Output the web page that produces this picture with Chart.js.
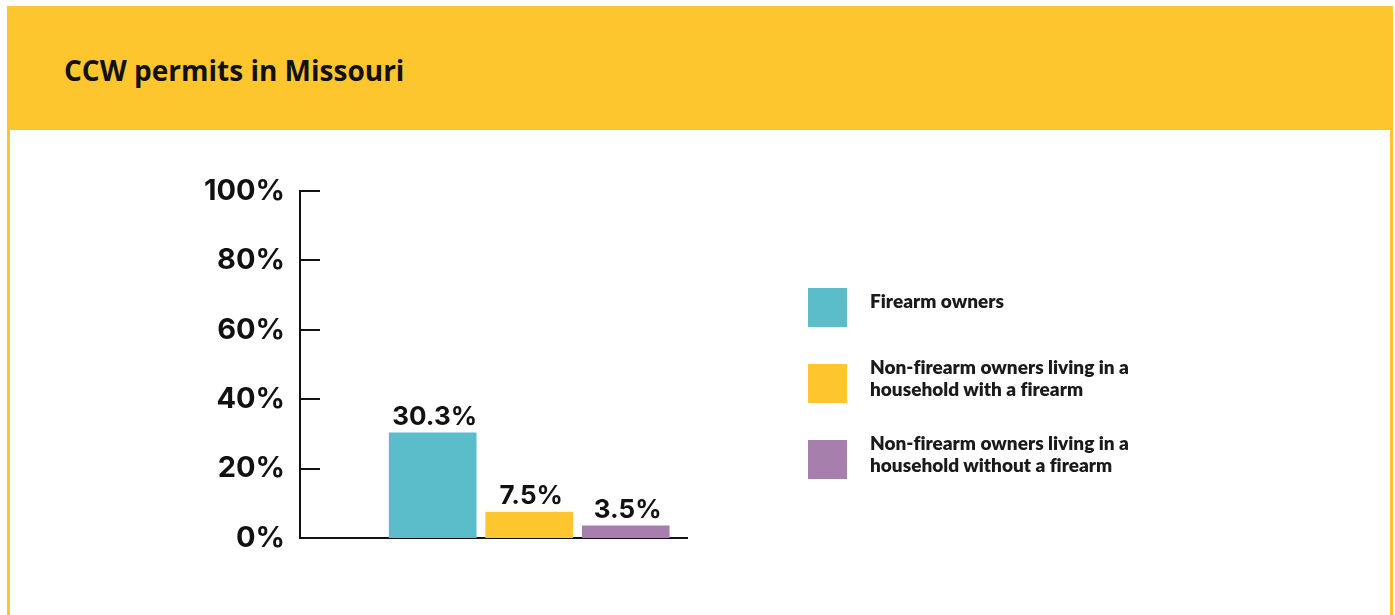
<!DOCTYPE html>
<html>
<head>
<meta charset="utf-8">
<script src="https://cdn.jsdelivr.net/npm/chart.js@4/dist/chart.umd.min.js"></script>
<style>
  html, body { margin: 0; padding: 0; background: #fff; width: 1395px; height: 615px; overflow: hidden; }
  .frame { position: absolute; left: 7px; top: 6px; width: 1380px; height: 640px;
           border-left: 3px solid #FEC62E; border-right: 3px solid #FEC62E; background: #fff; }
  .header { position: absolute; left: 0; top: 0; right: 0; height: 124px; background: #FEC62E; }
  .header h1 { position: absolute; left: 54px; top: 0; margin: 0; height: 28px;
               font: 700 28px "Open Sans", sans-serif; line-height: 28px; color: #111; }
  #chartWrap { position: absolute; left: 0; top: 0; width: 1395px; height: 615px; }
  .legend { position: absolute; left: 0; top: 0; font: 800 19px "Lato", sans-serif; color: #1a1a1a;
            font-variant-ligatures: none; }
  .legend .item { position: absolute; left: 808px; }
  .legend .swatch { position: absolute; left: 0; top: 0; width: 39px; height: 39px; }
  .legend .label { position: absolute; left: 62px; top: 0; width: 320px; line-height: 22px; white-space: nowrap; }
</style>
</head>
<body>
<div class="frame">
  <div class="header"><h1 id="title">CCW permits in Missouri</h1></div>
</div>
<div id="chartWrap"><canvas id="chart" width="1395" height="615"></canvas></div>
<div class="legend" id="legend"></div>
<script>
// Share of adults holding a concealed-carry permit, by household firearm status
const categories = [
  'Firearm owners',
  'Non-firearm owners living in a household with a firearm',
  'Non-firearm owners living in a household without a firearm'
];
const legendLines = [
  ['Firearm owners'],
  ['Non-firearm owners living in a', 'household with a firearm'],
  ['Non-firearm owners living in a', 'household without a firearm']
];
const permitShare = [30.3, 7.5, 3.5];
const yTicks = [0, 20, 40, 60, 80, 100];

const barColors = ['#5BBDCA', '#FEC62E', '#A77FAD'];
const legendTops = [288, 364, 440];

// Title baseline sits at y≈80 on the page
document.getElementById('title').style.top = (80 - 6 - 28 * 0.86) + 'px';

// Legend
const legendEl = document.getElementById('legend');
legendLines.forEach((lines, i) => {
  const item = document.createElement('div');
  item.className = 'item';
  item.style.top = legendTops[i] + 'px';
  const sw = document.createElement('div');
  sw.className = 'swatch';
  sw.style.background = barColors[i];
  const lab = document.createElement('div');
  lab.className = 'label';
  lab.style.top = (lines.length === 1 ? 2 : -8) + 'px';
  lab.innerHTML = lines.join('<br>');
  item.appendChild(sw);
  item.appendChild(lab);
  legendEl.appendChild(item);
});

// Inward tick marks on the value axis
const innerTicks = {
  id: 'innerTicks',
  afterDraw(chart) {
    const { ctx, scales: { y }, chartArea } = chart;
    ctx.save();
    ctx.strokeStyle = '#111';
    ctx.lineWidth = 2;
    yTicks.forEach(v => {
      const py = Math.round(y.getPixelForValue(v));
      ctx.beginPath();
      ctx.moveTo(chartArea.left, py);
      ctx.lineTo(chartArea.left + 20, py);
      ctx.stroke();
    });
    ctx.restore();
  }
};

// Value labels above each bar
const valueLabels = {
  id: 'valueLabels',
  afterDatasetsDraw(chart) {
    const { ctx } = chart;
    const meta = chart.getDatasetMeta(0);
    ctx.save();
    ctx.font = '700 26px "Inter", sans-serif';
    ctx.fillStyle = '#111';
    ctx.textAlign = 'center';
    ctx.textBaseline = 'alphabetic';
    meta.data.forEach((bar, i) => {
      ctx.fillText(permitShare[i] + '%', bar.x + 2, bar.y - 8);
    });
    ctx.restore();
  }
};

new Chart(document.getElementById('chart'), {
  type: 'bar',
  data: {
    datasets: [{
      label: 'CCW permits',
      data: permitShare.map((v, i) => ({ x: i + 1, y: v })),
      backgroundColor: barColors,
      borderWidth: 0,
      barThickness: 87
    }]
  },
  options: {
    responsive: false,
    animation: false,
    events: [],
    layout: { padding: { left: 0, top: 191, right: 708, bottom: 77 } },
    plugins: { legend: { display: false }, tooltip: { enabled: false }, title: { display: false } },
    scales: {
      x: {
        type: 'linear',
        offset: false,
        min: -0.375,
        max: 3.635,
        grid: { display: false, drawTicks: false },
        border: { display: true, color: '#111', width: 2 },
        ticks: { display: false },
        afterFit(scale) { scale.height = 0; }
      },
      y: {
        min: 0,
        max: 100,
        afterBuildTicks(scale) { scale.ticks = yTicks.map(v => ({ value: v })); },
        grid: { display: false, drawTicks: false },
        border: { display: true, color: '#111', width: 2 },
        ticks: {
          padding: 15,
          color: '#111',
          font: { family: 'Inter', size: 29, weight: '700' },
          callback: v => v + '%'
        },
        afterFit(scale) { scale.width = 300; }
      }
    }
  },
  plugins: [innerTicks, valueLabels]
});
</script>
</body>
</html>
